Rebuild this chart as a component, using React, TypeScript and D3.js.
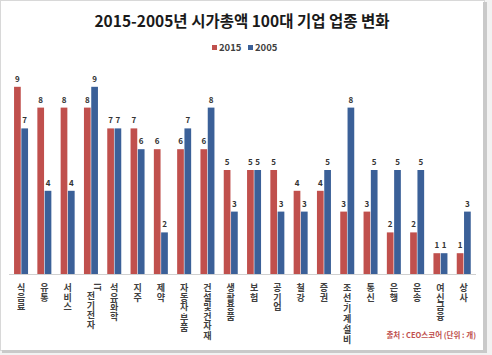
import React from "react";
import * as d3 from "d3";

const categories = ["식음료", "유통", "서비스", "IT전기전자", "석유화학", "지주", "제약", "자동차·부품", "건설및건자재", "생활용품", "보험", "공기업", "철강", "증권", "조선·기계·설비", "통신", "은행", "운송", "여신금융", "상사"];
const values2015 = [9, 8, 8, 8, 7, 7, 6, 6, 6, 5, 5, 5, 4, 4, 3, 3, 2, 2, 1, 1];
const values2005 = [7, 4, 4, 9, 7, 6, 2, 7, 8, 3, 5, 3, 3, 5, 8, 5, 5, 5, 1, 3];
const seriesNames = ["2015", "2005"];
const seriesColors = ["#c0504d", "#3b6098"];

const W = 492, H = 355;
const FONT = "'Noto Sans CJK KR', 'Noto Sans', sans-serif";

function StackedLabel({ text, x, y }: { text: string; x: number; y: number }) {
  const chars = Array.from(text);
  const hasIT = chars[0] === "I" && chars[1] === "T";
  const rest = hasIT ? chars.slice(2) : chars;
  const spans: React.ReactNode[] = [];
  let cy = hasIT ? y + 8 : y;
  rest.forEach((ch, i) => {
    if (ch === "·") {
      spans.push(<tspan key={i} x={x} y={cy - 3} fontWeight="normal">·</tspan>);
      cy += 2;
    } else {
      spans.push(<tspan key={i} x={x} y={cy}>{ch}</tspan>);
      cy += 9.6;
    }
  });
  return (
    <g>
      {hasIT && (
        <text x={0} y={0} transform={`translate(${x + 3},${y - 4}) rotate(90)`} fontSize={8.5} fontWeight="bold" textAnchor="middle" fill="#404040">IT</text>
      )}
      <text fontSize={9} fontWeight="bold" textAnchor="middle" fill="#404040">{spans}</text>
    </g>
  );
}

export default function App() {
  const x0 = d3.scaleBand<string>().domain(categories).range([9.4, 475.4]).padding(0);
  const x1 = d3.scaleBand<string>().domain(seriesNames).range([-7, 7]).paddingInner(0.08);
  const y = d3.scaleLinear().domain([0, 10]).range([274, 66]);
  const series = [values2015, values2005];

  return (
    <svg width={W} height={H} style={{ position: "absolute", left: 0, top: 0 }} fontFamily={FONT}>
      <rect x={0} y={0} width={W} height={H} fill="#f2f2f2" />
      <rect x={0.5} y={0.5} width={484} height={350} fill="#ffffff" stroke="#d8d8d8" />
      <rect x={483} y={2} width={4} height={351} fill="#c9c9c9" />
      <rect x={2} y={350} width={485} height={3} fill="#c9c9c9" />

      <text x={242} y={27} textAnchor="middle" fontSize={15.5} fontWeight="bold" fill="#1a1a1a">2015-2005년 시가총액 100대 기업 업종 변화</text>

      {seriesNames.map((s, i) => {
        const lx = i === 0 ? 212 : 248;
        return (
          <g key={s}>
            <rect x={lx} y={45} width={5} height={5} fill={seriesColors[i]} />
            <text x={lx + 7} y={51} fontSize={9.5} fontWeight="bold" fill="#404040">{s}</text>
          </g>
        );
      })}

      <line x1={9} x2={476} y1={274.5} y2={274.5} stroke="#d0d0d0" />

      {categories.map((c, ci) => {
        const cx = (x0(c) as number) + x0.bandwidth() / 2;
        return (
          <g key={c}>
            {series.map((vals, si) => {
              const bx = cx + (x1(seriesNames[si]) as number);
              const v = vals[ci];
              return (
                <g key={si}>
                  <rect x={bx} y={y(v)} width={x1.bandwidth()} height={y(0) - y(v)} fill={seriesColors[si]} />
                  <text x={bx + x1.bandwidth() / 2} y={y(v) - 5} fontSize={8} fontWeight="bold" textAnchor="middle" fill="#333">{v}</text>
                </g>
              );
            })}
            <StackedLabel text={c} x={cx} y={291} />
          </g>
        );
      })}

      <text x={476} y={338} textAnchor="end" fontSize={7.5} fontWeight="bold" fill="#c0504d">출처 : CEO스코어 (단위 : 개)</text>
    </svg>
  );
}
